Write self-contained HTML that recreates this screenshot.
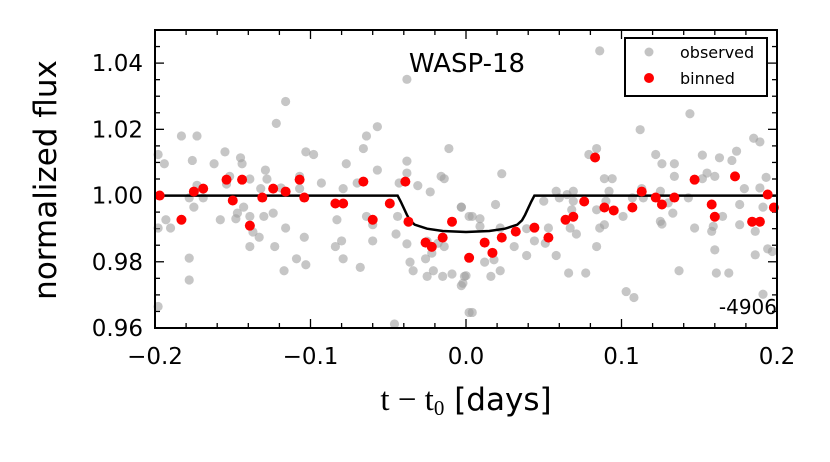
<!DOCTYPE html>
<html><head><meta charset="utf-8"><style>
body{margin:0;background:#fff;}
svg text{font-family:"DejaVu Sans","Liberation Sans",sans-serif;}
</style></head><body>
<svg id="chart" width="830" height="457" viewBox="0 0 830 457" xmlns="http://www.w3.org/2000/svg">
<g id="ticks"></g>
<g id="obs"></g>
<path id="model" fill="none" stroke="#000" stroke-width="2.5"/>
<g id="bin"></g>
<rect x="155" y="30" width="622" height="298" fill="none" stroke="#000" stroke-width="2"/>
<text x="467" y="72" font-size="26" text-anchor="middle">WASP-18</text>
<text x="777" y="314" font-size="20" text-anchor="end">-4906</text>
<g>
<rect x="625" y="38" width="142" height="58" fill="#fff" stroke="#000" stroke-width="2"/>
<circle cx="649" cy="52" r="4.5" fill="#b4b4b4" opacity="0.8"/>
<text x="680" y="58" font-size="16">observed</text>
<circle cx="649" cy="78" r="5" fill="#f00"/>
<text x="680" y="84" font-size="16">binned</text>
</g>
<g id="labels"></g>
<text transform="translate(56,180) rotate(-90)" font-size="31" text-anchor="middle">normalized flux</text>
<text x="466" y="410" font-size="31" text-anchor="middle"><tspan font-family="Liberation Serif,serif" font-size="33">t − t</tspan><tspan font-family="Liberation Serif,serif" font-size="21" dy="5">0</tspan><tspan dy="-5"> [days]</tspan></text>
</svg>
<script>
const obsX=[-0.198,-0.194,-0.193,-0.190,-0.198,-0.183,-0.173,-0.176,-0.178,-0.178,-0.175,-0.173,-0.178,-0.169,-0.162,-0.158,-0.155,-0.152,-0.154,-0.145,-0.144,-0.139,-0.143,-0.147,-0.148,-0.139,-0.137,-0.139,-0.133,-0.130,-0.129,-0.128,-0.132,-0.124,-0.123,-0.122,-0.119,-0.116,-0.116,-0.117,-0.109,-0.107,-0.107,-0.104,-0.103,-0.103,-0.098,-0.093,-0.083,-0.084,-0.080,-0.079,-0.077,-0.079,-0.070,-0.068,-0.066,-0.064,-0.064,-0.060,-0.060,-0.057,-0.057,-0.045,-0.046,-0.044,-0.043,-0.038,-0.038,-0.038,-0.038,-0.036,-0.034,-0.031,-0.023,-0.026,-0.025,-0.021,-0.025,-0.022,-0.018,-0.016,-0.014,-0.014,-0.015,-0.011,-0.009,-0.003,-0.001,-0.003,0.002,0.002,-0.198,
0.086,0.144,0.112,0.079,0.084,0.023,-0.003,0.004,0.009,0.009,0.019,0.022,0.018,0.012,0.016,0.022,-0.002,0.000,0.004,0.031,0.039,0.044,0.039,0.051,0.053,0.058,0.050,0.058,0.060,0.065,0.069,0.069,0.068,0.067,0.071,0.066,0.077,0.084,0.086,0.089,0.089,0.094,0.092,0.090,0.084,0.101,0.103,0.108,0.107,0.113,0.114,0.122,0.126,0.134,0.134,0.125,0.125,0.126,0.133,0.130,0.143,0.147,0.137,0.152,0.152,0.155,0.160,0.159,0.158,0.160,0.161,0.165,0.169,0.163,0.171,0.174,0.179,0.176,0.176,0.185,0.189,0.189,0.193,0.191,0.186,0.186,0.194,0.197,0.191];
const obsY=[1.0124,1.0096,0.9927,0.9902,0.9902,1.0180,1.0180,1.0106,0.9811,0.9745,0.9965,1.0031,0.9993,0.9993,1.0096,0.9927,1.0132,1.0058,1.0035,1.0114,1.0096,1.0050,0.9965,0.9947,0.9930,0.9937,0.9890,0.9846,0.9874,0.9937,1.0077,1.0050,1.0021,0.9947,0.9846,1.0218,1.0023,1.0284,0.9902,0.9773,0.9809,1.0058,1.0021,0.9874,1.0132,0.9791,1.0124,1.0038,0.9927,0.9846,0.9863,0.9809,1.0096,1.0021,1.0038,0.9783,1.0142,1.0180,0.9937,0.9912,0.9863,1.0077,1.0208,0.9884,0.9612,0.9937,1.0038,1.0351,1.0104,1.0068,0.9854,0.9799,0.9773,1.0030,1.0011,0.9809,0.9756,0.9773,0.9862,0.9826,0.9856,1.0058,1.0051,0.9846,0.9756,1.0142,0.9763,0.9728,0.9756,0.9965,0.9937,0.9647,0.9665,
1.0437,1.0247,1.0199,1.0124,1.0142,1.0066,0.9965,0.9937,0.9930,0.9907,0.9973,0.9902,0.9806,0.9799,0.9756,0.9773,0.9735,0.9758,0.9647,0.9846,0.9819,0.9863,0.9900,0.9856,0.9902,0.9819,0.9983,1.0013,0.9993,1.0003,1.0013,0.9983,0.9957,0.9902,0.9884,0.9766,0.9766,0.9846,0.9902,0.9912,1.0051,1.0051,1.0013,0.9983,0.9957,0.9937,0.9710,0.9692,0.9993,1.0021,0.9993,1.0124,1.0096,1.0096,1.0058,1.0013,0.9922,0.9914,0.9947,0.9978,0.9993,0.9902,0.9773,1.0122,1.0051,1.0068,1.0058,0.9907,0.9892,0.9836,0.9766,0.9937,0.9766,1.0114,1.0106,1.0134,1.0021,0.9973,0.9912,1.0173,1.0162,1.0023,1.0055,0.9965,0.9892,0.9821,0.9839,0.9831,0.9702];
const binX=[-0.197,-0.183,-0.175,-0.169,-0.154,-0.150,-0.144,-0.139,-0.131,-0.124,-0.116,-0.107,-0.104,-0.084,-0.079,-0.066,-0.060,-0.049,-0.039,-0.037,-0.026,-0.022,-0.015,-0.009,0.002,0.012,0.017,0.023,0.032,0.044,0.053,0.064,0.069,0.076,0.083,0.089,0.095,0.107,0.113,0.122,0.126,0.134,0.147,0.158,0.160,0.173,0.184,0.189,0.194,0.198];
const binY=[1.0000,0.9927,1.0012,1.0021,1.0048,0.9985,1.0048,0.9909,0.9994,1.0021,1.0012,1.0048,0.9994,0.9976,0.9976,1.0042,0.9927,0.9976,1.0042,0.9921,0.9858,0.9845,0.9873,0.9921,0.9812,0.9858,0.9827,0.9873,0.9891,0.9903,0.9873,0.9927,0.9936,0.9982,1.0115,0.9964,0.9955,0.9964,1.0012,0.9994,0.9973,0.9994,1.0048,0.9973,0.9936,1.0058,0.9921,0.9921,1.0003,0.9964];
const modelX=[-0.2,-0.044,-0.042,-0.040,-0.038,-0.036,-0.033,-0.025,-0.015,0,0.015,0.025,0.033,0.036,0.038,0.040,0.042,0.044,0.2];
const modelY=[1,1,0.9982,0.9962,0.9942,0.9925,0.9912,0.9900,0.9893,0.9890,0.9893,0.9900,0.9912,0.9925,0.9942,0.9962,0.9982,1,1];
const xTicks=[-0.2,-0.1,0.0,0.1,0.2];
const xTickLabels=["\u22120.2","\u22120.1","0.0","0.1","0.2"];
const yTicks=[0.96,0.98,1.00,1.02,1.04];
const yTickLabels=["0.96","0.98","1.00","1.02","1.04"];
const X0=155,X1=777,Y0=328,Y1=30;
const sx=v=>X0+(v+0.2)/0.4*(X1-X0);
const sy=v=>Y0-(v-0.96)/0.09*(Y0-Y1);
const NS="http://www.w3.org/2000/svg";
function mk(t,a,p){const e=document.createElementNS(NS,t);for(const k in a)e.setAttribute(k,a[k]);p.appendChild(e);return e;}
const gO=document.getElementById('obs');
obsX.forEach((x,i)=>{const c=mk('circle',{cx:sx(x),cy:sy(obsY[i]),r:4.6,fill:'#a0a0a0','fill-opacity':0.6},gO);

});
const gB=document.getElementById('bin');
binX.forEach((x,i)=>{const c=mk('circle',{cx:sx(x),cy:sy(binY[i]),r:5,fill:'#f00'},gB);

});
document.getElementById('model').setAttribute('d',modelX.map((x,i)=>(i?'L':'M')+sx(x).toFixed(1)+','+sy(modelY[i]).toFixed(1)).join(''));
const gT=document.getElementById('ticks'),gL=document.getElementById('labels');
for(let k=0;k<=20;k++){const v=-0.2+k*0.02,x=sx(v),L=(k%5==0)?9:5;
mk('line',{x1:x,x2:x,y1:Y0,y2:Y0-L,stroke:'#000','stroke-width':1.3},gT);
mk('line',{x1:x,x2:x,y1:Y1,y2:Y1+L,stroke:'#000','stroke-width':1.3},gT);}
for(let k=0;k<=18;k++){const v=0.96+k*0.005,y=sy(v),L=(k%4==0)?9:5;
mk('line',{x1:X0,x2:X0+L,y1:y,y2:y,stroke:'#000','stroke-width':1.3},gT);
mk('line',{x1:X1,x2:X1-L,y1:y,y2:y,stroke:'#000','stroke-width':1.3},gT);}
xTicks.forEach((v,i)=>{const t=mk('text',{x:sx(v),y:364,'font-size':23,'text-anchor':'middle'},gL);t.textContent=xTickLabels[i];

});
yTicks.forEach((v,i)=>{const t=mk('text',{x:143,y:sy(v)+8,'font-size':23,'text-anchor':'end'},gL);t.textContent=yTickLabels[i];

});
</script>
</body></html>
